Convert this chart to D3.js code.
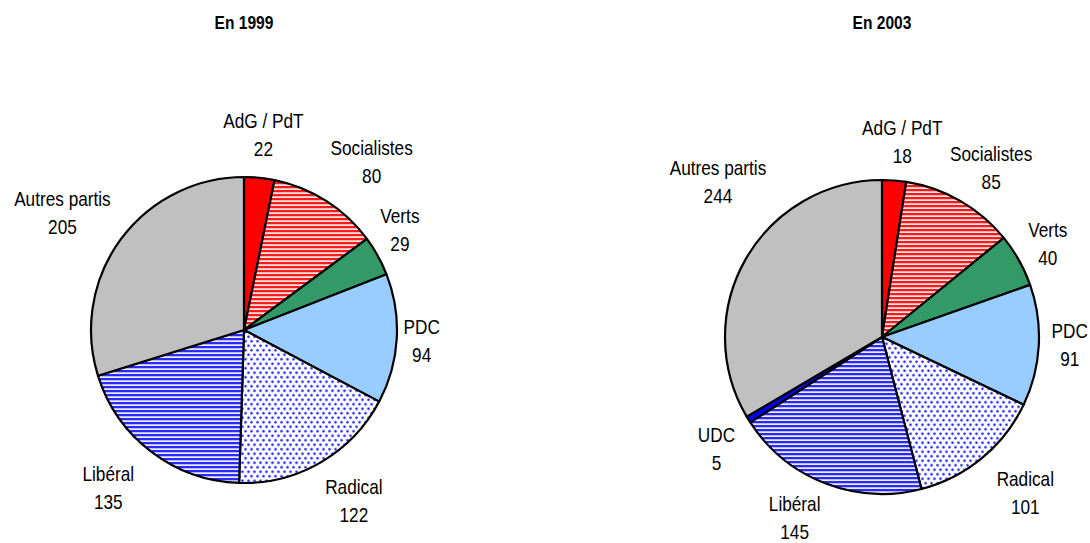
<!DOCTYPE html>
<html>
<head>
<meta charset="utf-8">
<script src="https://cdn.jsdelivr.net/npm/d3@7"></script>
<style>
  html, body { margin: 0; padding: 0; background: #fff; }
  svg { display: block; }
  text { font-family: "Liberation Sans Narrow", "Arial Narrow", "Liberation Sans", sans-serif; fill: #000; }
</style>
</head>
<body>
<script>
// data
const years = ["En 1999", "En 2003"];
const parties1999 = ["AdG / PdT", "Socialistes", "Verts", "PDC", "Radical", "Libéral", "Autres partis"];
const seats1999 = [22, 80, 29, 94, 122, 135, 205];
const parties2003 = ["AdG / PdT", "Socialistes", "Verts", "PDC", "Radical", "Libéral", "UDC", "Autres partis"];
const seats2003 = [18, 85, 40, 91, 101, 145, 5, 244];

const width = 1090, height = 543;

const svg = d3.select("body").append("svg")
    .attr("width", width)
    .attr("height", height);

// narrow font is not always there, squeeze the regular one instead
const probe = svg.append("text").style("font-size", "100px").text("Autres partis");
const probeW = probe.node().getComputedTextLength();
probe.remove();
const squeeze = probeW > 480 ? 0.82 : 1;

// fill patterns
const defs = svg.append("defs");

const redStripes = defs.append("pattern")
    .attr("id", "redStripes")
    .attr("patternUnits", "userSpaceOnUse")
    .attr("width", 8).attr("height", 4);
redStripes.append("rect").attr("width", 8).attr("height", 4).attr("fill", "#ffe4e4");
redStripes.append("rect").attr("width", 8).attr("height", 2).attr("fill", "#ff1a1a");
redStripes.append("rect").attr("y", 2).attr("width", 8).attr("height", 1).attr("fill", "#ffb4b4");

const blueStripes = defs.append("pattern")
    .attr("id", "blueStripes")
    .attr("patternUnits", "userSpaceOnUse")
    .attr("width", 8).attr("height", 4);
blueStripes.append("rect").attr("width", 8).attr("height", 4).attr("fill", "#ececff");
blueStripes.append("rect").attr("width", 8).attr("height", 2).attr("fill", "#2a2aff");
blueStripes.append("rect").attr("y", 2).attr("width", 8).attr("height", 1).attr("fill", "#b8b8ff");

const blueDots = defs.append("pattern")
    .attr("id", "blueDots")
    .attr("patternUnits", "userSpaceOnUse")
    .attr("width", 6).attr("height", 9);
blueDots.append("rect").attr("width", 6).attr("height", 9).attr("fill", "#ffffff");
[[1.5, 2.25], [4.5, 6.75]].forEach(p => {
    blueDots.append("circle").attr("cx", p[0]).attr("cy", p[1]).attr("r", 1.7).attr("fill", "#b0b0ff");
    blueDots.append("circle").attr("cx", p[0]).attr("cy", p[1]).attr("r", 1.1).attr("fill", "#2828ff");
});

const fills = {
    "AdG / PdT": "#ff0000",
    "Socialistes": "url(#redStripes)",
    "Verts": "#339966",
    "PDC": "#99ccff",
    "Radical": "url(#blueDots)",
    "Libéral": "url(#blueStripes)",
    "UDC": "#0000ff",
    "Autres partis": "#c0c0c0"
};

// layout of each pie (label nudges are pixel tweaks for the hand-placed labels)
const charts = [
    { title: years[0], names: parties1999, values: seats1999, cx: 244, cy: 330, r: 153,
      nudge: [[0, -3], [24, -5], [-13, -7], [-15, 0], [13, 4], [-19, 4], [-26, -3]] },
    { title: years[1], names: parties2003, values: seats2003, cx: 882, cy: 337, r: 157,
      nudge: [[5, 1], [11, 2], [-6, 3], [-9, -3], [18, 4], [-16, -3], [2, 8], [7, -57]] }
];

const pie = d3.pie().sort(null).value(d => d.value);

charts.forEach(c => {
    const data = c.names.map((n, i) => ({ name: n, value: c.values[i], i: i }));
    const arcs = pie(data);
    const arc = d3.arc().innerRadius(0).outerRadius(c.r);

    const g = svg.append("g")
        .attr("transform", "translate(" + c.cx + "," + c.cy + ")");

    g.selectAll(".slice")
        .data(arcs)
        .enter().append("path")
        .attr("class", "slice")
        .attr("d", arc)
        .attr("fill", d => fills[d.data.name])
        .attr("stroke", "#000")
        .attr("stroke-width", 2.2)
        .attr("stroke-linejoin", "round");

    // labels: name over value, placed outside the slice
    const L = c.r + 40;
    const label = g.selectAll(".label")
        .data(arcs)
        .enter().append("text")
        .attr("class", "label")
        .attr("text-anchor", "middle")
        .style("font-size", "21px")
        .attr("transform", d => {
            const a = (d.startAngle + d.endAngle) / 2;
            const n = c.nudge[d.data.i];
            const x = L * Math.sin(a) + n[0];
            const y = -L * Math.cos(a) + n[1] - 7;
            return "translate(" + x + "," + y + ") scale(" + squeeze + ",1)";
        });
    label.append("tspan").attr("x", 0).attr("y", 0).text(d => d.data.name);
    label.append("tspan").attr("x", 0).attr("y", 28).text(d => d.data.value);

    svg.append("text")
        .attr("transform", "translate(" + c.cx + ",29) scale(" + squeeze + ",1)")
        .attr("text-anchor", "middle")
        .style("font-size", "19px")
        .style("font-weight", "bold")
        .text(c.title);
});
</script>
</body>
</html>
